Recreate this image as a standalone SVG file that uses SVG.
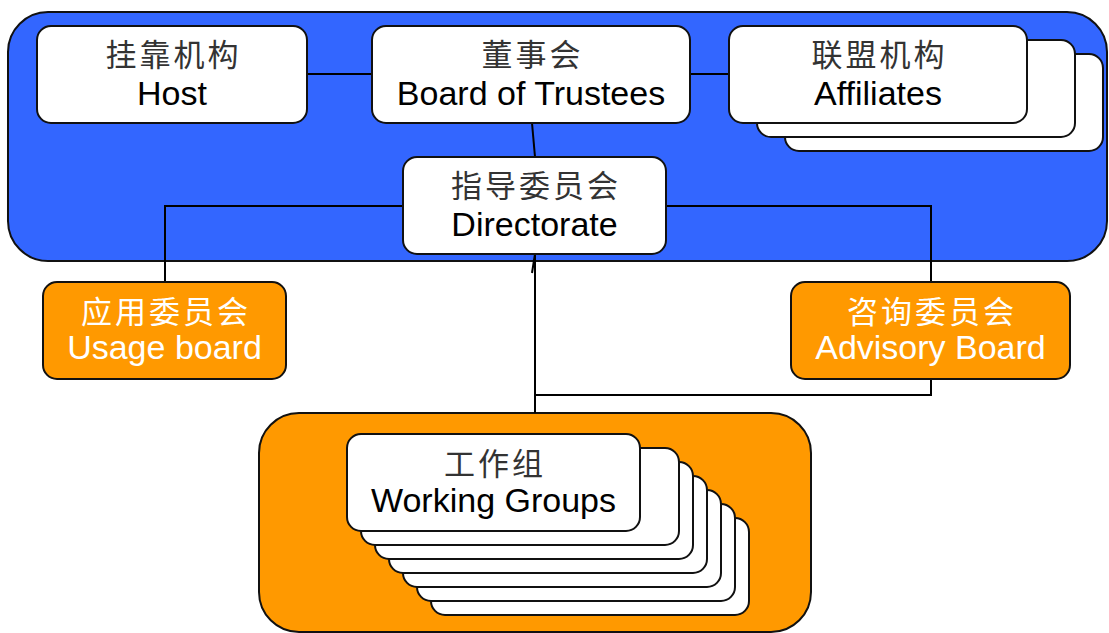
<svg xmlns="http://www.w3.org/2000/svg" width="1109" height="633" viewBox="0 0 1109 633">
<style>
.box{fill:#ffffff;stroke:#111;stroke-width:2}
.obox{fill:#FF9900;stroke:#111;stroke-width:2}
.cn{font-family:"Noto Sans CJK SC",sans-serif;font-size:31px;letter-spacing:3px;fill:#333;text-anchor:middle}
.en{font-family:"Liberation Sans",Arial,sans-serif;font-size:34px;fill:#000;text-anchor:middle}
.w{fill:#fff}
.conn{fill:none;stroke:#000;stroke-width:2}
</style>
<rect id="governance-container" x="8" y="12" width="1099" height="249" rx="40" fill="#3366FF" stroke="#111" stroke-width="2"/>
<rect id="wg-container" x="259" y="413" width="552" height="219" rx="40" fill="#FF9900" stroke="#111" stroke-width="2"/>
<g id="connectors">
<path class="conn" d="M307,74 H372"/>
<path class="conn" d="M690,74 H729"/>
<path class="conn" d="M532,123 L535,157"/>
<path class="conn" d="M403,206 H165 V282"/>
<path class="conn" d="M666,206 H931 V282"/>
<path class="conn" d="M535,254 V413"/>
<path class="conn" d="M535,254 L532,273"/>
<path class="conn" d="M931,379 V395 H535"/>
</g>
<g id="host">
<rect class="box" x="37" y="26" width="270" height="97" rx="14"/>
<text class="cn" x="173.5" y="66">挂靠机构</text>
<text class="en" x="172" y="105">Host</text>
</g>
<g id="board">
<rect class="box" x="372" y="26" width="318" height="97" rx="14"/>
<text class="cn" x="532.5" y="66">董事会</text>
<text class="en" x="531" y="105">Board of Trustees</text>
</g>
<g id="affiliates">
<rect class="box" x="785" y="54" width="318" height="97" rx="14"/>
<rect class="box" x="757" y="40" width="318" height="97" rx="14"/>
<rect class="box" x="729" y="26" width="298" height="97" rx="14"/>
<text class="cn" x="879.5" y="66">联盟机构</text>
<text class="en" x="878" y="105">Affiliates</text>
</g>
<g id="directorate">
<rect class="box" x="403" y="157" width="263" height="97" rx="14"/>
<text class="cn" x="536" y="197">指导委员会</text>
<text class="en" x="534.5" y="236">Directorate</text>
</g>
<g id="usage-board">
<rect class="obox" x="43" y="282" width="243" height="97" rx="14"/>
<text class="cn w" x="166" y="323">应用委员会</text>
<text class="en w" x="164.5" y="359">Usage board</text>
</g>
<g id="advisory-board">
<rect class="obox" x="791" y="282" width="279" height="97" rx="14"/>
<text class="cn w" x="932" y="323">咨询委员会</text>
<text class="en w" x="930.5" y="359">Advisory Board</text>
</g>
<g id="working-groups">
<rect class="box" x="431" y="518" width="318" height="97" rx="14"/>
<rect class="box" x="417" y="504" width="318" height="97" rx="14"/>
<rect class="box" x="403" y="490" width="318" height="97" rx="14"/>
<rect class="box" x="389" y="476" width="318" height="97" rx="14"/>
<rect class="box" x="375" y="462" width="318" height="97" rx="14"/>
<rect class="box" x="361" y="448" width="318" height="97" rx="14"/>
<rect class="box" x="347" y="434" width="293" height="97" rx="14"/>
<text class="cn" x="495" y="475">工作组</text>
<text class="en" x="493.5" y="512">Working Groups</text>
</g>
</svg>
